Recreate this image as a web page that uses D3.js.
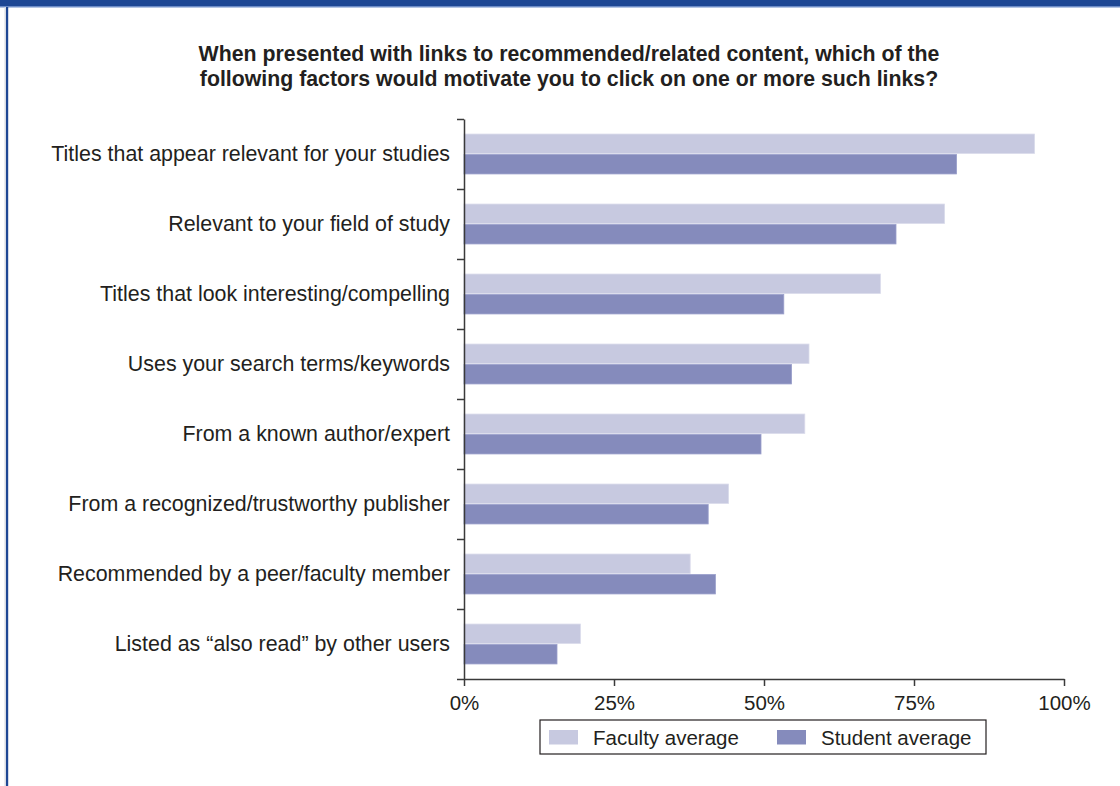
<!DOCTYPE html>
<html>
<head>
<meta charset="utf-8">
<script src="https://cdnjs.cloudflare.com/ajax/libs/d3/7.8.5/d3.min.js"></script>
<style>
  body { margin: 0; background: #fff; }
  svg text { font-family: "Liberation Sans", Arial, Helvetica, sans-serif; fill: #231f20; }
</style>
</head>
<body>
<div id="chart"></div>
<script>
const categories = [
  'Titles that appear relevant for your studies',
  'Relevant to your field of study',
  'Titles that look interesting/compelling',
  'Uses your search terms/keywords',
  'From a known author/expert',
  'From a recognized/trustworthy publisher',
  'Recommended by a peer/faculty member',
  'Listed as \u201calso read\u201d by other users'
];
const facultyValues = [95.1, 80.1, 69.4, 57.5, 56.8, 44.1, 37.7, 19.4];
const studentValues = [82.1, 72.0, 53.3, 54.6, 49.5, 40.7, 41.9, 15.5];
const seriesNames = ['Faculty average', 'Student average'];
const xTicks = [0, 25, 50, 75, 100];
const titleLines = [
  'When presented with links to recommended/related content, which of the',
  'following factors would motivate you to click on one or more such links?'
];

const width = 1120;
const height = 786;
const margin = { top: 119, right: 56, bottom: 107, left: 464 };
const colors = { 'Faculty average': '#c7c9e0', 'Student average': '#858bbc' };
const strokes = { 'Faculty average': '#dadbeb', 'Student average': '#9a9fcb' };
const font = '"Liberation Sans", Arial, Helvetica, sans-serif';

const svg = d3.select('#chart')
  .append('svg')
  .attr('width', width)
  .attr('height', height);

// page frame: blue bar on top, blue rule on the left
svg.append('rect').attr('x', 0).attr('y', 0).attr('width', width).attr('height', 6).attr('fill', '#1e4794');
svg.append('rect').attr('x', 0).attr('y', 6).attr('width', width).attr('height', 1.5).attr('fill', '#6d8cc7');
svg.append('rect').attr('x', 4.5).attr('y', 7).attr('width', 1.5).attr('height', height).attr('fill', '#d8dbe2');
svg.append('rect').attr('x', 6).attr('y', 7).attr('width', 2.2).attr('height', height).attr('fill', '#1e4794');

// title
svg.append('g')
  .selectAll('text')
  .data(titleLines)
  .enter()
  .append('text')
  .attr('x', 569)
  .attr('y', (d, i) => 61 + i * 25)
  .attr('text-anchor', 'middle')
  .attr('font-weight', 'bold')
  .attr('font-size', 21.3)
  .text(d => d);

const x = d3.scaleLinear()
  .domain([0, 100])
  .range([margin.left, width - margin.right]);

const y = d3.scaleBand()
  .domain(categories)
  .range([margin.top, height - margin.bottom])
  .paddingInner(0.43)
  .paddingOuter(0.215);

const ySub = d3.scaleBand()
  .domain(seriesNames)
  .range([0, y.bandwidth()])
  .paddingInner(0.05);

// ticks between categories
const yEdges = d3.scaleLinear()
  .domain([0, categories.length])
  .range([margin.top, height - margin.bottom]);

// bars
const rows = categories.map((c, i) => ({
  category: c,
  values: [
    { name: seriesNames[0], value: facultyValues[i] },
    { name: seriesNames[1], value: studentValues[i] }
  ]
}));

svg.append('g')
  .selectAll('g')
  .data(rows)
  .enter()
  .append('g')
  .attr('transform', d => `translate(0,${y(d.category)})`)
  .selectAll('rect')
  .data(d => d.values)
  .enter()
  .append('rect')
  .attr('x', x(0))
  .attr('y', d => ySub(d.name))
  .attr('width', d => x(d.value) - x(0))
  .attr('height', ySub.bandwidth())
  .attr('fill', d => colors[d.name])
  .attr('stroke', d => strokes[d.name])
  .attr('stroke-width', 0.8);

// y axis (line + boundary ticks)
const yAxis = svg.append('g')
  .attr('transform', `translate(${x(0)},0)`)
  .call(d3.axisLeft(yEdges).tickValues(d3.range(categories.length + 1)).tickSize(7).tickSizeOuter(0).tickFormat(''));

// category labels
svg.append('g')
  .attr('transform', `translate(${x(0)},0)`)
  .call(d3.axisLeft(y).tickSize(0).tickPadding(14))
  .call(g => g.select('.domain').remove())
  .selectAll('text')
  .attr('font-size', 21.4)
  .attr('font-family', font)
  .attr('fill', '#231f20');

// x axis
const xAxis = svg.append('g')
  .attr('transform', `translate(0,${height - margin.bottom})`)
  .call(d3.axisBottom(x).tickValues(xTicks).tickSize(7).tickSizeOuter(0).tickPadding(9).tickFormat(d => d + '%'));

xAxis.selectAll('text')
  .attr('font-size', 20.5)
  .attr('font-family', font)
  .attr('fill', '#231f20');

[yAxis, xAxis].forEach(g => {
  g.selectAll('.domain, line').attr('stroke', '#3a3a3a').attr('stroke-width', 1.5);
});

// legend
const legend = svg.append('g').attr('transform', 'translate(540,720)');
legend.append('rect')
  .attr('width', 446)
  .attr('height', 34)
  .attr('fill', 'none')
  .attr('stroke', '#231f20')
  .attr('stroke-width', 1.2);

const legendX = [9, 237];
const legendItems = legend.selectAll('.legend-item')
  .data(seriesNames)
  .enter()
  .append('g')
  .attr('class', 'legend-item')
  .attr('transform', (d, i) => `translate(${legendX[i]},10)`);

legendItems.append('rect')
  .attr('width', 29)
  .attr('height', 14.5)
  .attr('fill', d => colors[d]);

legendItems.append('text')
  .attr('x', 44)
  .attr('y', 14.5)
  .attr('font-size', 20.5)
  .text(d => d);
</script>
</body>
</html>
